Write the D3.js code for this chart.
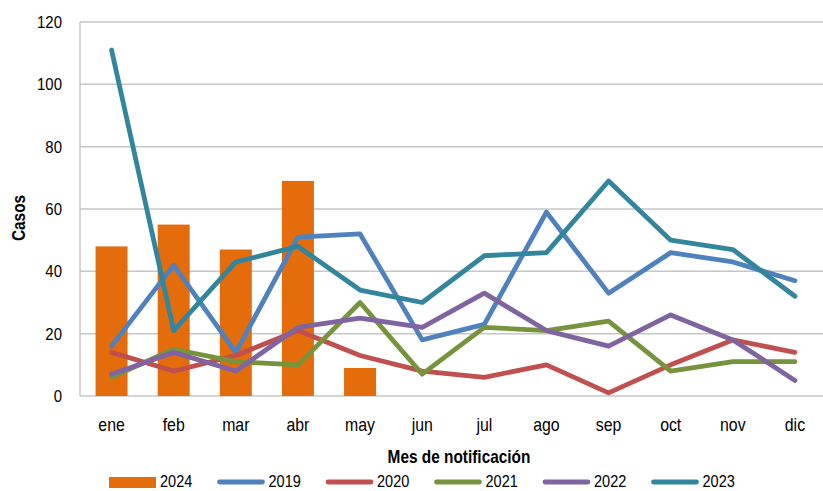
<!DOCTYPE html>
<html><head><meta charset="utf-8">
<script src="https://cdn.jsdelivr.net/npm/d3@7"></script>
<style>
html,body{margin:0;padding:0;background:#fff;overflow:hidden}
svg text{font-family:"Liberation Sans Narrow","Arial Narrow","Liberation Sans",Arial,sans-serif;fill:#000}
</style></head>
<body><svg id="chart" width="823" height="491"></svg>
<script>
const months = ["ene","feb","mar","abr","may","jun","jul","ago","sep","oct","nov","dic"];
const barSeriesName = "2024";
const bars2024 = [48,55,47,69,9];
const lineSeriesNames = ["2019","2020","2021","2022","2023"];
const s2019 = [16,42,14,51,52,18,23,59,33,46,43,37];
const s2020 = [14,8,13,21,13,8,6,10,1,10,18,14];
const s2021 = [6,15,11,10,30,7,22,21,24,8,11,11];
const s2022 = [7,14,8,22,25,22,33,21,16,26,18,5];
const s2023 = [111,21,43,48,34,30,45,46,69,50,47,32];
const yTicks = [0,20,40,60,80,100,120];
const barColor = "#E46C0A";
const lineColors = ["#4F81BD","#C0504D","#77933C","#8064A2","#31859C"];
const xTitle = "Mes de notificación";
const yTitle = "Casos";

const SX = 0.88; // horizontal condensing to mimic a narrow font
const lineData = [s2019,s2020,s2021,s2022,s2023];
const svg = d3.select("#chart");
const x = d3.scaleBand().domain(months).range([80.5,826]).paddingInner(0.485).paddingOuter(0.2425);
const xp = d3.scalePoint().domain(months).range([80.5,826]).padding(0.5);
const y = d3.scaleLinear().domain([0,120]).range([396,22]);

// gridlines
svg.append("g").selectAll("line").data(yTicks).join("line")
  .attr("x1",80).attr("x2",826).attr("y1",d=>y(d)).attr("y2",d=>y(d))
  .attr("stroke","#c6c6c6").attr("stroke-width",1.5);
svg.append("line").attr("x1",80).attr("x2",80).attr("y1",y(120)).attr("y2",y(0))
  .attr("stroke","#c6c6c6").attr("stroke-width",1.5);

// y tick labels
svg.append("g").selectAll("text").data(yTicks).join("text")
  .attr("transform",d=>`translate(62,${y(d)}) scale(${SX},1)`).attr("dy","0.36em").attr("text-anchor","end")
  .style("font-size","17px").text(d=>d);

// x tick labels
svg.append("g").selectAll("text").data(months).join("text")
  .attr("transform",d=>`translate(${xp(d)},431) scale(${SX},1)`).attr("text-anchor","middle")
  .style("font-size","18px").text(d=>d);

// bars
svg.append("g").selectAll("rect").data(bars2024).join("rect")
  .attr("x",(d,i)=>x(months[i])).attr("width",x.bandwidth())
  .attr("y",d=>y(d)).attr("height",d=>y(0)-y(d)).attr("fill",barColor);

// lines
const line = d3.line().x((d,i)=>xp(months[i])).y(d=>y(d));
svg.append("g").selectAll("path").data(lineData).join("path")
  .attr("d",d=>line(d)).attr("fill","none")
  .attr("stroke",(d,i)=>lineColors[i]).attr("stroke-width",4.8)
  .attr("stroke-linejoin","round").attr("stroke-linecap","round");

// axis titles
svg.append("text").attr("transform",`translate(459,462.5) scale(${SX},1)`).attr("text-anchor","middle")
  .style("font-size","17.5px").style("font-weight","bold").text(xTitle);
svg.append("text").attr("transform",`translate(25,218) rotate(-90) scale(${SX},1)`).attr("text-anchor","middle")
  .style("font-size","17.5px").style("font-weight","bold").text(yTitle);

// legend
const legNames = [barSeriesName].concat(lineSeriesNames);
const leg = svg.append("g").selectAll("g").data(legNames).join("g")
  .attr("transform",(d,i)=>`translate(${109+i*108.5},482)`);
leg.each(function(d,i){
  const g = d3.select(this);
  if(i===0){
    g.append("rect").attr("x",0).attr("y",-5).attr("width",47).attr("height",11).attr("fill",barColor);
  } else {
    g.append("line").attr("x1",2).attr("x2",45).attr("y1",0).attr("y2",0)
      .attr("stroke",lineColors[i-1]).attr("stroke-width",4.8).attr("stroke-linecap","round");
  }
  g.append("text").attr("transform",`translate(51,4.5) scale(${SX},1)`).style("font-size","16.5px").text(d);
});
</script></body></html>
